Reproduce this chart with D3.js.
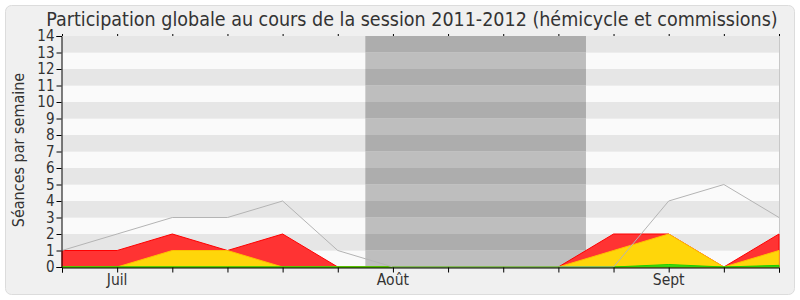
<!DOCTYPE html>
<html>
<head>
<meta charset="utf-8">
<script src="https://cdn.jsdelivr.net/npm/d3@7"></script>
<style>
	body { margin: 0; background: #fff; }
	svg text { font-family: "DejaVu Sans Condensed", "DejaVu Sans", sans-serif; fill: #333; }
</style>
</head>
<body>
<div id="my_chart"></div>
<script>
	// weeks of the session, one point per week
	var weeks = [0, 1, 2, 3, 4, 5, 6, 7, 8, 9, 10, 11, 12, 13];
	var monthLabels = [{ week: 1, label: "Juil" }, { week: 6, label: "Août" }, { week: 11, label: "Sept" }];
	var vacation = [5.5, 9.5];

	// séances par semaine (areas overlap, drawn red > yellow > green)
	var greenValues  = [0, 0, 0, 0, 0, 0, 0, 0, 0, 0, 0, 0.15, 0, 0.1];
	var yellowValues = [0, 0, 1, 1, 0, 0, 0, 0, 0, 0, 1, 2, 0, 1];
	var redValues    = [1, 1, 2, 1, 2, 0, 0, 0, 0, 0, 2, 2, 0, 2];
	var totalValues  = [1, 2, 3, 3, 4, 1, 0, 0, 0, 0, 0, 4, 5, 3];

	var yTicks = d3.range(0, 15);

	var width = 800;
	var height = 300;
	var margin = { left: 62, right: 20, top: 36, bottom: 33 };

	const svg = d3.select("#my_chart").append("svg")
	.attr("width", width)
	.attr("height", height);

	// outer frame
	svg.append("rect")
	.attr("x", 5.5).attr("y", 5.5)
	.attr("width", width - 11).attr("height", height - 11)
	.attr("rx", 6)
	.attr("fill", "#f0f0f0")
	.attr("stroke", "#dcdcdc");

	const x = d3.scaleLinear().domain([0, 13]).range([margin.left, width - margin.right - 1]);
	const y = d3.scaleLinear().domain([0, 14]).range([height - margin.bottom, margin.top]);

	// stripes
	svg.append("g")
	.selectAll("rect")
	.data(d3.range(0, 14))
	.enter().append("rect")
	.attr("x", x(0))
	.attr("width", x(13) - x(0))
	.attr("y", d => y(d + 1))
	.attr("height", d => y(d) - y(d + 1))
	.attr("fill", d => d % 2 == 1 ? "#e6e6e6" : "#fafafa");

	// vacation band
	svg.append("g")
	.selectAll("rect")
	.data(d3.range(0, 14))
	.enter().append("rect")
	.attr("x", x(vacation[0]))
	.attr("width", x(vacation[1]) - x(vacation[0]))
	.attr("y", d => y(d + 1))
	.attr("height", d => y(d) - y(d + 1))
	.attr("fill", d => d % 2 == 1 ? "#adadad" : "#bebebe");

	svg.append("line")
	.attr("x1", x(13) + 0.5).attr("x2", x(13) + 0.5)
	.attr("y1", y(14)).attr("y2", y(0))
	.attr("stroke", "#c8c8c8");

	function area(top) {
		return d3.area()
		.x(i => x(i))
		.y0(y(0))
		.y1(i => y(top[i]));
	}

	svg.append("path")
	.datum(weeks)
	.attr("d", area(redValues))
	.attr("fill", "#ff3333")
	.attr("stroke", "#ff0000")
	.attr("stroke-width", 1);

	svg.append("path")
	.datum(weeks)
	.attr("d", area(yellowValues))
	.attr("fill", "#ffd60a")
	.attr("stroke", "#ffc000")
	.attr("stroke-width", 1);

	svg.append("path")
	.datum(weeks)
	.attr("d", area(greenValues))
	.attr("fill", "#3fdc1a")
	.attr("stroke", "#22cc00")
	.attr("stroke-width", 1);

	// total line
	svg.append("path")
	.datum(weeks)
	.attr("d", d3.line().x(i => x(i)).y(i => y(totalValues[i])))
	.attr("fill", "none")
	.attr("stroke", "#b4b4b4")
	.attr("stroke-width", 1);

	// axes
	const yAxis = svg.append("g")
	.attr("transform", "translate(" + (x(0) - 0.5) + ",0)")
	.call(d3.axisLeft(y).tickValues(yTicks).tickSize(5).tickPadding(2).tickFormat(d3.format("d")));
	yAxis.select(".domain").attr("stroke", "#000");
	yAxis.selectAll("text").style("font-size", "15px").style("font-family", "DejaVu Sans Condensed").attr("fill", "#333");

	const xAxis = svg.append("g")
	.attr("transform", "translate(0," + (y(0) + 0.5) + ")")
	.call(d3.axisBottom(x).tickValues(weeks).tickSize(5).tickFormat(""));
	xAxis.select(".domain").attr("stroke", "#000");

	svg.append("g")
	.attr("transform", "translate(0," + y(14) + ")")
	.call(d3.axisTop(x).tickValues(weeks).tickSize(2).tickFormat(""))
	.select(".domain").remove();

	svg.append("g")
	.selectAll("text")
	.data(monthLabels)
	.enter().append("text")
	.attr("x", d => x(d.week))
	.attr("y", 285)
	.attr("text-anchor", "middle")
	.style("font-size", "15.5px")
	.text(d => d.label);

	svg.append("text")
	.attr("transform", "translate(24,150) rotate(-90)")
	.attr("text-anchor", "middle")
	.style("font-size", "16px")
	.text("Séances par semaine");

	svg.append("text")
	.attr("x", 412)
	.attr("y", 26)
	.attr("text-anchor", "middle")
	.style("font-size", "19.5px")
	.text("Participation globale au cours de la session 2011-2012 (hémicycle et commissions)");
</script>
</body>
</html>
